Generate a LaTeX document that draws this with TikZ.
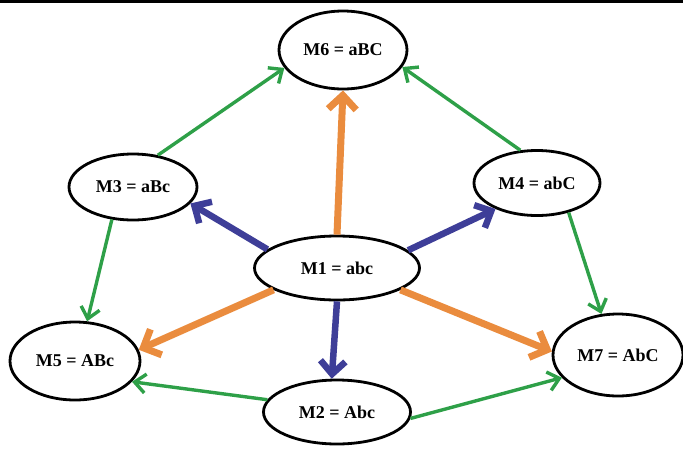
\documentclass[tikz,border=0pt]{standalone}
\usepackage{fontspec}
\setmainfont{Liberation Serif}
\usepackage{xcolor}
\usepackage{tikz}
\usetikzlibrary{positioning,arrows.meta,shapes.geometric}

\definecolor{edgegreen}{RGB}{46,160,72}
\definecolor{edgeblue}{RGB}{62,62,152}
\definecolor{edgeorange}{RGB}{234,140,62}

\begin{document}
\begin{tikzpicture}[
  x=1pt, y=-1pt,
  m/.style={draw, ellipse, line width=2.8pt, inner sep=0pt, fill=white,
            font=\bfseries\fontsize{18}{20}\selectfont},
  g/.style={->, draw=edgegreen, line width=3.4pt,
            >={Straight Barb[length=11pt, width=19pt, line width=3.4pt]}},
  b/.style={->, draw=edgeblue, line width=6.5pt,
            >={Straight Barb[length=13pt, width=25pt, line width=6.5pt]}},
  o/.style={->, draw=edgeorange, line width=7pt,
            >={Straight Barb[length=14pt, width=28pt, line width=7pt]}}
]
  \useasboundingbox (0,0) rectangle (683,448);
  \draw[line width=3pt] (0,1.5) -- (683,1.5);

  % --- states
  \node[m, minimum width=128pt, minimum height=78pt] (m6) at (343,50)  {M6 = aBC};
  \node[m, minimum width=128pt, minimum height=66pt] (m3) at (133,187) {M3 = aBc};
  \node[m, minimum width=126pt, minimum height=65pt] (m4) at (537,183) {M4 = abC};
  \node[m, minimum width=165pt, minimum height=64pt] (m1) at (337,268) {M1 = abc};
  \node[m, minimum width=130pt, minimum height=78pt] (m5) at (75,361)  {M5 = ABc};
  \node[m, minimum width=147pt, minimum height=64pt] (m2) at (337,412) {M2 = Abc};
  \node[m, minimum width=130pt, minimum height=82pt] (m7) at (618,355) {M7 = AbC};

  % --- one step from M1
  \draw[b] (m1.165) -- (m3.344);
  \draw[b] (m1.14) -- (m4.212);
  \draw[b] (m1.south) -- (m2.99);

  % --- two steps from M1
  \draw[o] (m1.north) -- (m6.south);
  \draw[o] (m1.199) -- (m5.10);
  \draw[o] (m1.341) -- (m7.177);

  % --- outer ring
  \draw[g] (m3.52) -- (m6.197);
  \draw[g] (m4.117) -- (m6.344);
  \draw[g] (m3.237) -- (m5.73);
  \draw[g] (m4.317) -- (m7.112);
  \draw[g] (m2.170) -- (m5.340);
  \draw[g] (m2.355) -- (m7.202);
\end{tikzpicture}
\end{document}
